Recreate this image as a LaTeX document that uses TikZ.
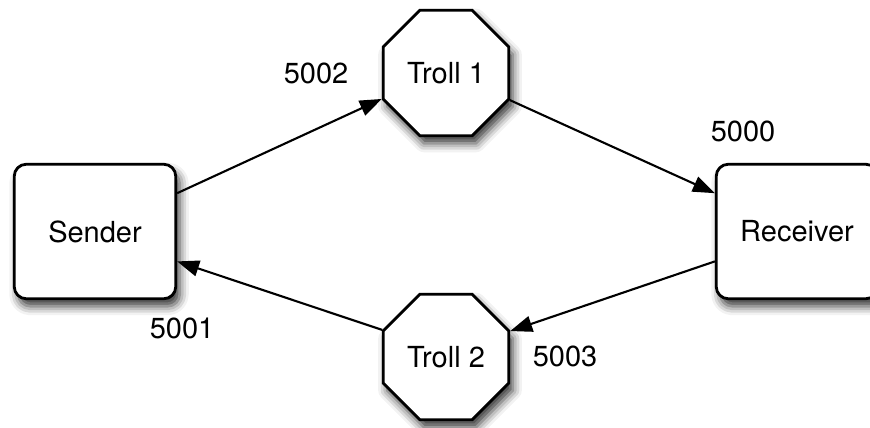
\documentclass[tikz,border=0pt]{standalone}
\usepackage{fontspec}
\setmainfont{TeX Gyre Heros}
\usetikzlibrary{arrows.meta,shapes.geometric,shadows.blur}

\begin{document}
\begin{tikzpicture}[font=\fontsize{16.5}{20}\selectfont,
    drop/.style={blur shadow={shadow xshift=0.08cm, shadow yshift=-0.15cm,
        shadow blur radius=0.18cm, shadow opacity=80}},
    host/.style={draw, line width=1.6pt, rounded corners=0.24cm, fill=white,
        minimum width=3.23cm, minimum height=2.69cm, drop},
    troll/.style={draw, regular polygon, regular polygon sides=8, line width=1.6pt,
        fill=white, minimum size=2.72cm, inner sep=0pt, drop},
    link/.style={line width=1.2pt, -{Triangle[length=0.44cm, width=0.32cm]}}]
  \useasboundingbox (0,0) rectangle (17.4,8.54);

  % Endpoints
  \node[host] (sender) at (1.90,3.91) {Sender};
  \node[host] (receiver) at (15.94,3.91) {Receiver};

  % Trolls in between
  \node[troll] (troll1) at (8.92,7.08) {Troll 1};
  \node[troll] (troll2) at (8.92,1.40) {Troll 2};

  % Links
  \draw[link] (sender.25) -- (troll1.202.5);
  \draw[link] (troll1.337.5) -- (receiver.155);
  \draw[link] (receiver.200) -- (troll2.22.5);
  \draw[link] (troll2.157.5) -- (sender.340);

  % Port numbers
  \node (p5002) at (6.32,7.08) {5002};
  \node (p5000) at (14.86,5.92) {5000};
  \node (p5001) at (3.64,1.98) {5001};
  \node (p5003) at (11.30,1.42) {5003};
\end{tikzpicture}
\end{document}
